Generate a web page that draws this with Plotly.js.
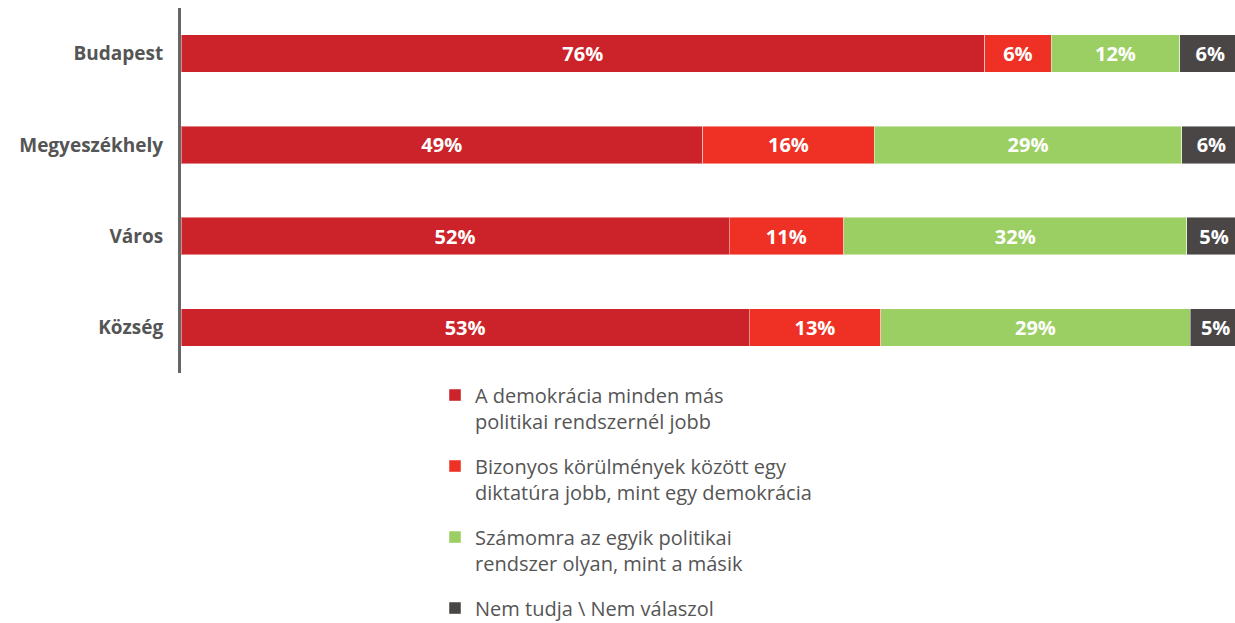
<!DOCTYPE html>
<html>
<head>
<meta charset="utf-8">
<script src="https://cdn.plot.ly/plotly-3.0.1.min.js"></script>
<style>html,body{margin:0;padding:0;background:#fff;}#chart{width:1235px;height:623px;}</style>
</head>
<body>
<div id="chart"></div>
<script>
const categories = ["Budapest", "Megyeszékhely", "Város", "Község"];
const seriesNames = [
  "A demokrácia minden más<br>politikai rendszernél jobb",
  "Bizonyos körülmények között egy<br>diktatúra jobb, mint egy demokrácia",
  "Számomra az egyik politikai<br>rendszer olyan, mint a másik",
  "Nem tudja \\ Nem válaszol"
];
const demokracia = [75.8, 49.2, 51.7, 53.6];
const diktatura = [6.3, 16.2, 10.8, 12.4];
const mindegy = [12.1, 29.0, 32.4, 29.2];
const nemTudja = [5.8, 5.6, 5.1, 4.8];
const demokraciaLabels = ["76%", "49%", "52%", "53%"];
const diktaturaLabels = ["6%", "16%", "11%", "13%"];
const mindegyLabels = ["12%", "29%", "32%", "29%"];
const nemTudjaLabels = ["6%", "6%", "5%", "5%"];
const colors = ["#cc2229", "#ee3124", "#9ccf63", "#4a4646"];

const values = [demokracia, diktatura, mindegy, nemTudja];
const labels = [demokraciaLabels, diktaturaLabels, mindegyLabels, nemTudjaLabels];

const traces = values.map((v, i) => ({
  type: "bar",
  orientation: "h",
  name: seriesNames[i],
  legendgroup: "g" + i,
  y: categories,
  x: v,
  text: labels[i],
  texttemplate: "%{text}",
  textposition: "inside",
  insidetextanchor: "middle",
  constraintext: "none",
  textfont: {family: "Open Sans, sans-serif", size: 20, color: "#ffffff", weight: "bold"},
  marker: {color: colors[i], line: {color: "rgba(255,255,255,0.45)", width: 1}},
  hoverinfo: "skip"
}));

const layout = {
  width: 1235,
  height: 623,
  barmode: "stack",
  bargap: 0.59,
  showlegend: true,
  paper_bgcolor: "#ffffff",
  plot_bgcolor: "#ffffff",
  margin: {l: 181, r: 0, t: 8, b: 250, pad: 0, autoexpand: false},
  xaxis: {
    range: [0, 99.43],
    showgrid: false,
    zeroline: false,
    showticklabels: false,
    showline: false,
    fixedrange: true
  },
  yaxis: {
    autorange: "reversed",
    showgrid: false,
    zeroline: false,
    showline: true,
    linecolor: "#666666",
    linewidth: 3,
    ticks: "",
    ticklabelstandoff: 11,
    tickfont: {family: "Open Sans, sans-serif", size: 19, color: "#555555", weight: "bold"},
    fixedrange: true
  },
  legend: {
    orientation: "v",
    x: 0.241,
    xanchor: "left",
    y: -0.007,
    yanchor: "top",
    traceorder: "grouped",
    tracegroupgap: 16,
    valign: "top",
    font: {family: "Open Sans, sans-serif", size: 20, color: "#555555"},
    bgcolor: "rgba(0,0,0,0)"
  }
};

Plotly.newPlot("chart", traces, layout, {displayModeBar: false, staticPlot: true});
</script>
</body>
</html>
